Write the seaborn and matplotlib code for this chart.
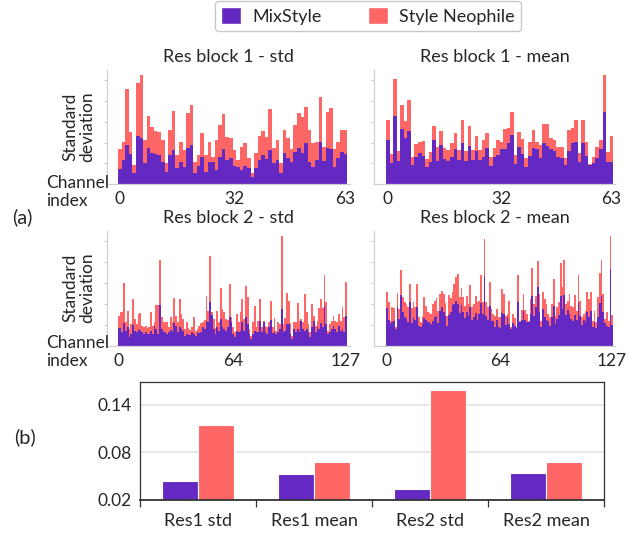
import numpy as np
import pandas as pd
import matplotlib
matplotlib.use("Agg")
import matplotlib.pyplot as plt
import seaborn as sns
from matplotlib.patches import Patch

sns.set_style("white")
plt.rcParams["font.family"] = ["Lato", "DejaVu Sans"]

mix_color = "#6429c2"
neo_color = "#ff6666"
methods = ["MixStyle", "Style Neophile"]

# per-channel statistics (arbitrary units)
r1_std_neo = [104, 127, 284, 157, 57, 304, 327, 132, 204, 172,
              159, 155, 132, 62, 162, 219, 87, 127, 102, 212,
              237, 67, 87, 152, 87, 127, 82, 132, 177, 210,
              142, 137, 102, 72, 110, 122, 77, 32, 92, 144,
              160, 142, 224, 107, 132, 62, 162, 137, 104, 177,
              212, 202, 232, 162, 122, 127, 260, 110, 217, 227,
              104, 127, 162, 162]
r1_std_mix = [46, 73, 117, 90, 32, 144, 137, 62, 109, 94,
              89, 87, 65, 37, 87, 102, 47, 67, 50, 107,
              117, 32, 54, 82, 35, 67, 67, 42, 82, 104,
              72, 77, 54, 52, 42, 54, 47, 20, 47, 72,
              87, 74, 102, 62, 72, 32, 92, 77, 67, 97,
              107, 92, 122, 67, 52, 72, 127, 70, 107, 104,
              50, 77, 97, 89]

r1_mean_neo = [192, 90, 314, 100, 237, 190, 252, 80, 120, 125,
               129, 75, 97, 175, 112, 160, 109, 102, 122, 152,
               102, 191, 100, 174, 102, 144, 102, 132, 152, 82,
               107, 132, 127, 164, 167, 217, 87, 157, 135, 77,
               127, 162, 127, 117, 180, 180, 139, 132, 112, 112,
               77, 162, 167, 192, 94, 192, 127, 60, 82, 110,
               132, 327, 97, 144]
r1_mean_mix = [132, 64, 204, 70, 164, 139, 160, 56, 80, 92,
               85, 52, 67, 132, 70, 117, 74, 70, 82, 104,
               72, 124, 69, 114, 72, 100, 72, 82, 107, 54,
               80, 87, 104, 106, 124, 147, 59, 110, 90, 52,
               84, 109, 104, 77, 124, 114, 104, 100, 82, 77,
               57, 100, 124, 125, 67, 122, 84, 57, 64, 77,
               104, 217, 67, 67]

r2_std_neo = [91, 103, 101, 189, 71, 106, 51, 66, 141, 81,
              66, 96, 99, 61, 56, 61, 53, 56, 103, 61,
              71, 123, 123, 256, 86, 71, 73, 71, 56, 86,
              71, 143, 91, 71, 141, 96, 81, 51, 73, 53,
              49, 56, 86, 46, 51, 61, 69, 71, 79, 151,
              106, 269, 101, 81, 53, 106, 71, 173, 111, 101,
              81, 79, 186, 86,
              56, 41, 96, 71, 101, 141, 81, 179, 146, 51,
              31, 71, 119, 56, 76, 141, 56, 76, 61, 56,
              73, 136, 56, 83, 46, 71, 66, 329, 66, 83,
              159, 136, 69, 31, 71, 73, 129, 76, 81, 71,
              156, 101, 66, 43, 126, 91, 61, 76, 113, 141,
              113, 211, 131, 46, 66, 76, 91, 76, 71, 96,
              76, 116, 86, 191]
r2_std_mix = [53, 53, 41, 69, 46, 56, 26, 36, 63, 46,
              41, 51, 49, 41, 36, 41, 36, 36, 46, 36,
              61, 51, 36, 123, 51, 41, 41, 36, 41, 49,
              41, 69, 61, 41, 56, 51, 46, 29, 36, 33,
              33, 41, 36, 31, 41, 39, 43, 56, 51, 76,
              71, 131, 93, 51, 36, 56, 46, 81, 56, 51,
              46, 56, 86, 71,
              36, 26, 46, 41, 46, 73, 46, 86, 66, 36,
              21, 36, 46, 43, 41, 76, 41, 73, 41, 36,
              56, 79, 39, 41, 36, 41, 51, 111, 41, 46,
              66, 66, 36, 21, 51, 41, 51, 41, 76, 51,
              46, 51, 41, 26, 56, 76, 41, 56, 51, 69,
              56, 119, 66, 36, 41, 51, 61, 51, 41, 61,
              46, 51, 41, 91]

r2_mean_neo = [163, 131, 76, 116, 113, 56, 158, 111, 228, 146,
               131, 126, 116, 186, 113, 131, 116, 186, 86, 73,
               91, 146, 119, 103, 99, 96, 126, 136, 143, 106,
               156, 166, 156, 129, 91, 153, 143, 161, 186, 206,
               216, 146, 173, 146, 119, 151, 126, 181, 116, 126,
               151, 131, 136, 213, 131, 321, 131, 116, 191, 111,
               96, 91, 111, 86,
               86, 171, 156, 91, 96, 136, 56, 96, 83, 56,
               213, 76, 109, 156, 109, 96, 76, 141, 233, 126,
               151, 253, 156, 76, 161, 141, 126, 96, 86, 126,
               199, 91, 116, 131, 249, 176, 256, 126, 136, 156,
               121, 116, 153, 106, 211, 136, 86, 96, 106, 161,
               141, 163, 76, 106, 71, 146, 219, 256, 156, 81,
               101, 76, 329, 93]
r2_mean_mix = [113, 79, 66, 73, 76, 51, 116, 81, 153, 101,
               86, 81, 73, 131, 69, 86, 79, 116, 61, 56,
               66, 83, 79, 73, 71, 66, 76, 86, 91, 69,
               106, 116, 101, 91, 61, 93, 101, 123, 126, 136,
               126, 99, 123, 101, 83, 101, 91, 116, 79, 86,
               99, 79, 96, 129, 96, 209, 91, 79, 119, 76,
               76, 56, 79, 56,
               53, 99, 96, 63, 86, 66, 51, 69, 61, 53,
               133, 71, 79, 106, 79, 71, 71, 96, 151, 91,
               116, 176, 101, 56, 111, 86, 79, 76, 61, 86,
               121, 66, 81, 93, 149, 111, 153, 93, 109, 96,
               81, 76, 93, 79, 129, 89, 63, 79, 71, 101,
               86, 106, 56, 71, 53, 86, 129, 151, 101, 69,
               61, 56, 229, 63]

# mean spread per layer (panel b)
summary_labels = ["Res1 std", "Res1 mean", "Res2 std", "Res2 mean"]
summary_mix = [0.044, 0.053, 0.034, 0.054]
summary_neo = [0.115, 0.068, 0.159, 0.068]


def channel_panel(ax, mix, neo, title, ticks, minor_step, xlim, ytop):
    idx = np.arange(len(mix))
    sns.barplot(x=idx, y=neo, color=neo_color, width=1.0, native_scale=True,
                saturation=1, linewidth=0, ax=ax)
    sns.barplot(x=idx, y=mix, color=mix_color, width=1.0, native_scale=True,
                saturation=1, linewidth=0, ax=ax)
    ax.set_xlim(*xlim)
    ax.set_ylim(0, ytop)
    ax.set_title(title, fontsize=13, pad=6)
    ax.set_xticks(ticks)
    ax.set_xticklabels([str(t) for t in ticks], fontsize=12.5)
    ax.set_xticks(np.arange(minor_step, len(mix), minor_step), minor=True)
    ax.set_yticks(np.arange(ytop / 5.5, ytop, ytop / 5.5))
    ax.set_yticklabels([])
    ax.tick_params(axis="x", which="major", length=0, pad=5)
    ax.tick_params(axis="x", which="minor", length=2.5, color="#cccccc", width=0.8)
    ax.tick_params(axis="y", length=2.5, color="#cccccc", width=0.8, left=True)
    for side in ["top", "right"]:
        ax.spines[side].set_visible(False)
    for side in ["left", "bottom"]:
        ax.spines[side].set_color("#d0d0d0")
        ax.spines[side].set_linewidth(0.9)
    ax.set_xlabel("")
    ax.set_ylabel("")


fig = plt.figure(figsize=(6.29, 5.35), dpi=100)
W, H = 629, 535


def add_ax(x0, y0, x1, y1):
    return fig.add_axes([x0 / W, 1 - y1 / H, (x1 - x0) / W, (y1 - y0) / H])


ax1 = add_ax(107, 70, 350, 184)
ax2 = add_ax(374, 70, 615, 184)
ax3 = add_ax(107, 231, 350, 346)
ax4 = add_ax(374, 231, 615, 346)
ax5 = add_ax(140, 382, 604, 500)

channel_panel(ax1, r1_std_mix, r1_std_neo, "Res block 1 - std",
              [0, 32, 63], 10, (-3.6, 64.3), 342)
channel_panel(ax2, r1_mean_mix, r1_mean_neo, "Res block 1 - mean",
              [0, 32, 63], 10, (-3.9, 64.0), 342)
channel_panel(ax3, r2_std_mix, r2_std_neo, "Res block 2 - std",
              [0, 64, 127], 20, (-6.6, 129.2), 344)
channel_panel(ax4, r2_mean_mix, r2_mean_neo, "Res block 2 - mean",
              [0, 64, 127], 20, (-7.3, 128.6), 344)

# panel b
df = pd.DataFrame({
    "layer": summary_labels * 2,
    "value": summary_mix + summary_neo,
    "method": [methods[0]] * 4 + [methods[1]] * 4,
})
sns.barplot(data=df, x="layer", y="value", hue="method", hue_order=methods,
            palette=[mix_color, neo_color], saturation=1, width=0.62,
            edgecolor="white", linewidth=0.8, legend=False, ax=ax5)
ax5.set_ylim(0.02, 0.169)
ax5.set_xlim(-0.5, 3.5)
ax5.set_yticks([0.02, 0.08, 0.14])
ax5.set_yticklabels(["0.02", "0.08", "0.14"], fontsize=12.5)
ax5.yaxis.grid(True, color="#e3e3e3", linewidth=1.2)
ax5.set_axisbelow(True)
ax5.set_xticks(np.arange(-0.5, 4, 1), minor=True)
ax5.tick_params(axis="x", which="major", length=0, labelsize=13, pad=9)
ax5.tick_params(axis="x", which="minor", length=5, color="#333333", width=0.9, bottom=True)
ax5.tick_params(axis="y", length=0, pad=6)
for side in ax5.spines.values():
    side.set_color("#333333")
    side.set_linewidth(0.9)
ax5.spines["bottom"].set_linewidth(1.3)
ax5.set_xlabel("")
ax5.set_ylabel("")

# side labels
for yc in [127, 288]:
    fig.text(79 / W, 1 - yc / H, "Standard\ndeviation", rotation=90,
             ha="center", va="center", fontsize=12.5, linespacing=1.1)
for yc in [192, 352]:
    fig.text(46 / W, 1 - yc / H, "Channel\nindex", ha="left", va="center",
             fontsize=12.5, linespacing=1.1)
fig.text(22 / W, 1 - 217 / H, "(a)", ha="center", va="center", fontsize=14.5)
fig.text(25 / W, 1 - 437 / H, "(b)", ha="center", va="center", fontsize=14.5)

handles = [Patch(facecolor=mix_color), Patch(facecolor=neo_color)]
fig.legend(handles, methods, loc="center", bbox_to_anchor=(368 / W, 1 - 16 / H),
           ncol=2, fontsize=13, frameon=True, edgecolor="#bbbbbb",
           handlelength=1.1, handleheight=1.1, columnspacing=2.6,
           handletextpad=0.6, borderpad=0.35, borderaxespad=0.2)

fig.savefig("out.png", dpi=100)
